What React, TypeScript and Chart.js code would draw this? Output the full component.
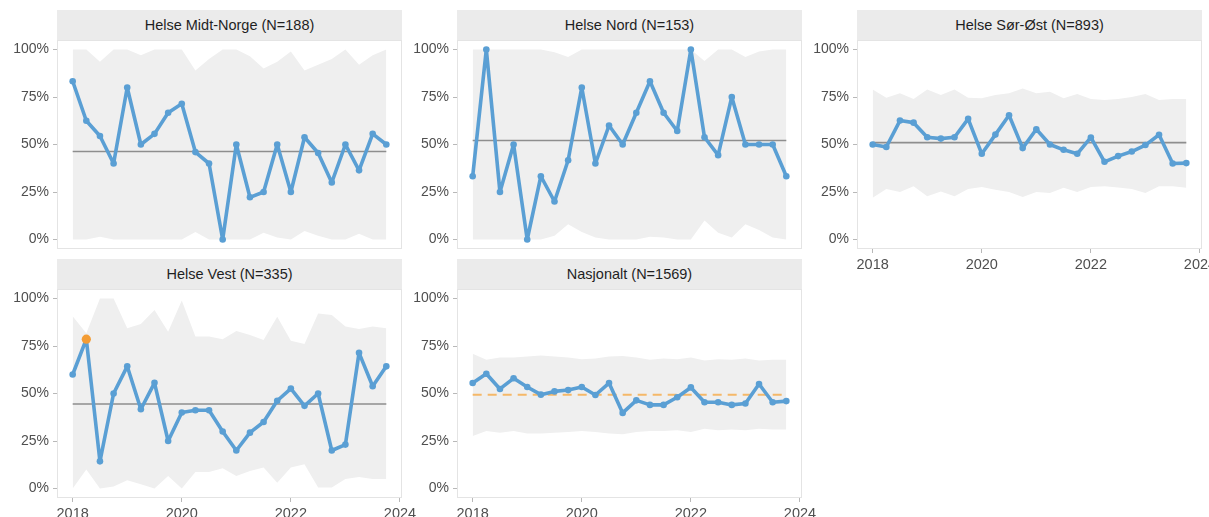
import React, { useEffect, useRef } from "react";
import { Chart, registerables } from "chart.js";

Chart.register(...registerables);

const FONT = '"Liberation Sans", Arial, Helvetica, sans-serif';

// ---------- data ----------
const quarters = [
  2018, 2018.25, 2018.5, 2018.75, 2019, 2019.25, 2019.5, 2019.75,
  2020, 2020.25, 2020.5, 2020.75, 2021, 2021.25, 2021.5, 2021.75,
  2022, 2022.25, 2022.5, 2022.75, 2023, 2023.25, 2023.5, 2023.75,
];

const yTickValues = [0, 0.25, 0.5, 0.75, 1];
const yTickLabels = ["0%", "25%", "50%", "75%", "100%"];
const xTickValues = [2018, 2020, 2022, 2024];
const xTickLabels = ["2018", "2020", "2022", "2024"];

const midtTitle = "Helse Midt-Norge (N=188)";
const midtValues = [0.833, 0.625, 0.545, 0.4, 0.8, 0.5, 0.556, 0.667, 0.714, 0.46, 0.4, 0, 0.5, 0.222, 0.25, 0.5, 0.25, 0.538, 0.455, 0.3, 0.5, 0.364, 0.556, 0.5];
const midtUpper = [1, 1, 0.935, 1, 1, 0.97, 1, 1, 1, 0.89, 0.95, 1, 1, 0.965, 0.9, 0.935, 0.99, 0.89, 0.92, 0.95, 1, 0.92, 0.97, 1];
const midtLower = [0, 0, 0.015, 0, 0, 0, 0, 0, 0, 0.04, 0, 0, 0, 0, 0.035, 0.01, 0, 0.045, 0.02, 0, 0, 0.03, 0, 0];
const midtCenter = 0.463;

const nordTitle = "Helse Nord (N=153)";
const nordValues = [0.333, 1, 0.25, 0.5, 0, 0.333, 0.2, 0.417, 0.8, 0.4, 0.6, 0.5, 0.667, 0.833, 0.667, 0.571, 1, 0.538, 0.444, 0.75, 0.5, 0.5, 0.5, 0.333];
const nordUpper = [1, 1, 1, 1, 1, 1, 0.985, 0.96, 1, 1, 1, 1, 1, 1, 1, 1, 1, 0.94, 1, 1, 0.96, 0.99, 1, 1];
const nordLower = [0, 0, 0, 0, 0, 0, 0.02, 0.08, 0.04, 0.01, 0, 0, 0, 0.015, 0.01, 0, 0, 0.1, 0.035, 0.01, 0.08, 0.05, 0.01, 0];
const nordCenter = 0.521;

const sorTitle = "Helse Sør-Øst (N=893)";
const sorValues = [0.5, 0.487, 0.626, 0.615, 0.538, 0.531, 0.538, 0.635, 0.451, 0.552, 0.654, 0.481, 0.58, 0.5, 0.472, 0.451, 0.537, 0.409, 0.439, 0.463, 0.497, 0.551, 0.4, 0.402];
const sorUpper = [0.79, 0.746, 0.77, 0.74, 0.79, 0.76, 0.79, 0.746, 0.743, 0.76, 0.77, 0.795, 0.77, 0.778, 0.743, 0.766, 0.74, 0.734, 0.74, 0.75, 0.766, 0.734, 0.74, 0.74];
const sorLower = [0.22, 0.266, 0.25, 0.28, 0.227, 0.253, 0.227, 0.266, 0.276, 0.262, 0.25, 0.224, 0.25, 0.245, 0.272, 0.25, 0.276, 0.28, 0.274, 0.266, 0.245, 0.28, 0.28, 0.272];
const sorCenter = 0.51;

const vestTitle = "Helse Vest (N=335)";
const vestValues = [0.6, 0.786, 0.143, 0.5, 0.643, 0.417, 0.556, 0.25, 0.4, 0.412, 0.412, 0.3, 0.2, 0.294, 0.35, 0.462, 0.526, 0.435, 0.5, 0.2, 0.231, 0.714, 0.538, 0.643];
const vestUpper = [0.907, 0.817, 1, 1, 0.843, 0.866, 0.939, 0.825, 0.99, 0.8, 0.8, 0.785, 0.829, 0.808, 0.782, 0.904, 0.777, 0.76, 0.921, 0.913, 0.852, 0.84, 0.852, 0.843];
const vestLower = [0, 0.1, 0, 0.01, 0.044, 0.023, 0, 0.066, 0, 0.087, 0.087, 0.106, 0.066, 0.092, 0.11, 0.03, 0.11, 0.127, 0.005, 0.005, 0.05, 0.06, 0.05, 0.05];
const vestCenter = 0.445;
const vestHighlight = 1;

const nasjTitle = "Nasjonalt (N=1569)";
const nasjValues = [0.555, 0.604, 0.524, 0.58, 0.534, 0.494, 0.511, 0.518, 0.534, 0.492, 0.555, 0.398, 0.464, 0.44, 0.44, 0.48, 0.532, 0.454, 0.454, 0.44, 0.447, 0.55, 0.454, 0.46];
const nasjUpper = [0.709, 0.677, 0.69, 0.69, 0.695, 0.7, 0.695, 0.69, 0.68, 0.684, 0.695, 0.698, 0.69, 0.677, 0.684, 0.68, 0.69, 0.674, 0.68, 0.677, 0.684, 0.674, 0.677, 0.677];
const nasjLower = [0.276, 0.302, 0.293, 0.302, 0.29, 0.29, 0.293, 0.297, 0.302, 0.297, 0.29, 0.286, 0.297, 0.302, 0.302, 0.307, 0.297, 0.314, 0.307, 0.31, 0.307, 0.314, 0.31, 0.31];
const nasjCenter = 0.494;

// ---------- layout ----------
const AXIS_W = 57;
const PANEL_W = 345;
const PANEL_H = 209;
const STRIP_H = 30;
const PAD_T = 15;
const PAD_R = 22;
const XAXIS_H = 30;
const X_MIN = 2017.7125;
const X_MAX = 2024.0375;

const BLUE = "#5a9fd4";
const RIBBON = "#efefef";

const panelPlugin = {
  id: "panelBg",
  beforeDraw(chart: any) {
    const { ctx, chartArea: a } = chart;
    ctx.save();
    ctx.fillStyle = "#ffffff";
    ctx.fillRect(a.left, a.top, a.right - a.left, a.bottom - a.top);
    ctx.strokeStyle = "#e4e4e4";
    ctx.lineWidth = 1;
    ctx.strokeRect(a.left + 0.5, a.top + 0.5, a.right - a.left - 1, a.bottom - a.top - 1);
    ctx.restore();
  },
};

type PanelProps = {
  title: string;
  values: number[];
  upper: number[];
  lower: number[];
  center: number;
  dashed?: boolean;
  highlight?: number;
  showX: boolean;
  left: number;
  top: number;
};

function Panel({ title, values, upper, lower, center, dashed, highlight, showX, left, top }: PanelProps) {
  const ref = useRef<HTMLCanvasElement>(null);
  const w = AXIS_W + PANEL_W + PAD_R;
  const h = PAD_T + PANEL_H + (showX ? XAXIS_H : PAD_T);

  useEffect(() => {
    const pts = (arr: number[]) => quarters.map((q, i) => ({ x: q, y: arr[i] }));
    const chart = new Chart(ref.current as HTMLCanvasElement, {
      type: "line",
      data: {
        datasets: [
          { data: pts(upper), borderWidth: 0, pointRadius: 0, fill: "+1", backgroundColor: RIBBON, borderColor: RIBBON, order: 4 } as any,
          { data: pts(lower), borderWidth: 0, pointRadius: 0, fill: false, borderColor: RIBBON, order: 3 },
          {
            data: [
              { x: quarters[0], y: center },
              { x: quarters[quarters.length - 1], y: center },
            ],
            borderColor: dashed ? "#f5b868" : "#8e8e8e",
            borderWidth: dashed ? 2 : 1.6,
            borderDash: dashed ? [9, 6] : [],
            pointRadius: 0,
            fill: false,
            order: 2,
          },
          {
            data: pts(values),
            borderColor: BLUE,
            borderWidth: 3.6,
            borderJoinStyle: "round",
            borderCapStyle: "round",
            pointRadius: 3.3,
            pointBackgroundColor: BLUE,
            pointBorderWidth: 0,
            fill: false,
            order: 1,
          },
          {
            data: highlight !== undefined ? [{ x: quarters[highlight], y: values[highlight] }] : [],
            showLine: false,
            pointRadius: 4.6,
            pointBackgroundColor: "#f39c34",
            pointBorderWidth: 0,
            order: 0,
          },
        ],
      },
      options: {
        responsive: false,
        animation: false,
        devicePixelRatio: 1,
        layout: { padding: { top: PAD_T, right: PAD_R, bottom: showX ? 0 : PAD_T, left: 0 } },
        elements: { line: { tension: 0 } },
        plugins: { legend: { display: false }, tooltip: { enabled: false }, title: { display: false } },
        scales: {
          x: {
            type: "linear",
            min: X_MIN,
            max: X_MAX,
            bounds: "data",
            display: showX,
            afterBuildTicks: (s: any) => {
              s.ticks = xTickValues.map((v) => ({ value: v }));
            },
            afterFit: (s: any) => {
              s.height = showX ? XAXIS_H : 0;
            },
            ticks: {
              autoSkip: false,
              maxRotation: 0,
              padding: 3,
              color: "#4f4f4f",
              font: { family: FONT, size: 14.5 },
              callback: (_v: any, i: number) => xTickLabels[i],
            },
            grid: { drawOnChartArea: false, drawTicks: true, tickLength: 4, color: "#b8b8b8" },
            border: { display: false },
          },
          y: {
            type: "linear",
            min: -0.05,
            max: 1.05,
            bounds: "data",
            afterBuildTicks: (s: any) => {
              s.ticks = yTickValues.map((v) => ({ value: v }));
            },
            afterFit: (s: any) => {
              s.width = AXIS_W;
            },
            ticks: {
              autoSkip: false,
              padding: 4,
              color: "#4f4f4f",
              font: { family: FONT, size: 14 },
              callback: (_v: any, i: number) => yTickLabels[i],
            },
            grid: { drawOnChartArea: false, drawTicks: true, tickLength: 4, color: "#b8b8b8" },
            border: { display: false },
          },
        },
      } as any,
      plugins: [panelPlugin],
    });
    return () => chart.destroy();
  }, []);

  return (
    <>
      <div
        style={{
          position: "absolute",
          left,
          top: top - STRIP_H,
          width: PANEL_W,
          height: STRIP_H,
          background: "#ebebeb",
          color: "#1f1f1f",
          fontFamily: FONT,
          fontSize: 14.5,
          display: "flex",
          alignItems: "center",
          justifyContent: "center",
        }}
      >
        {title}
      </div>
      <canvas
        ref={ref}
        width={w}
        height={h}
        style={{ position: "absolute", left: left - AXIS_W, top: top - PAD_T, width: w, height: h }}
      />
    </>
  );
}

export default function App() {
  const cols = [57, 457, 857];
  const rows = [40, 289];
  return (
    <div
      style={{
        position: "absolute",
        left: 0,
        top: 0,
        width: 1209,
        height: 517,
        overflow: "hidden",
        background: "#ffffff",
      }}
    >
      <Panel title={midtTitle} values={midtValues} upper={midtUpper} lower={midtLower} center={midtCenter} showX={false} left={cols[0]} top={rows[0]} />
      <Panel title={nordTitle} values={nordValues} upper={nordUpper} lower={nordLower} center={nordCenter} showX={false} left={cols[1]} top={rows[0]} />
      <Panel title={sorTitle} values={sorValues} upper={sorUpper} lower={sorLower} center={sorCenter} showX={true} left={cols[2]} top={rows[0]} />
      <Panel title={vestTitle} values={vestValues} upper={vestUpper} lower={vestLower} center={vestCenter} highlight={vestHighlight} showX={true} left={cols[0]} top={rows[1]} />
      <Panel title={nasjTitle} values={nasjValues} upper={nasjUpper} lower={nasjLower} center={nasjCenter} dashed={true} showX={true} left={cols[1]} top={rows[1]} />
    </div>
  );
}
